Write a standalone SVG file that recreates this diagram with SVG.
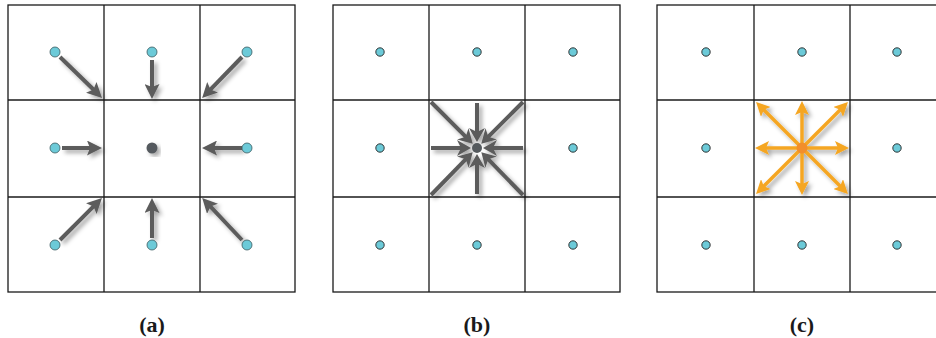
<svg xmlns="http://www.w3.org/2000/svg" width="936" height="338" viewBox="0 0 936 338">
<defs>
<style>
.grid{stroke:#1a1a1a;stroke-width:1.3;fill:none}
.cy{fill:#6ccad8;stroke:#3a5a60;stroke-width:0.8}
.cy2{fill:#6ccad8;stroke:#222;stroke-width:0.9}
.ga{stroke:#5c5c5c;stroke-width:4;fill:none;marker-end:url(#hg)}
.gb{stroke:#5c5c5c;stroke-width:4;fill:none;marker-end:url(#hg2)}
.oc{stroke:#f5a623;stroke-width:3.5;fill:none;marker-end:url(#ho)}
.lbl{font-family:"Liberation Serif","Times New Roman",serif;font-weight:bold;font-size:22px;fill:#1a1a1a;text-anchor:middle}
</style>
<filter id="sh" x="-30%" y="-30%" width="160%" height="160%">
<feDropShadow dx="3" dy="3" stdDeviation="2" flood-color="#000" flood-opacity="0.35"/>
</filter>
<marker id="hg" markerUnits="userSpaceOnUse" markerWidth="17" markerHeight="15" refX="7" refY="7.5" orient="auto">
<path d="M0,0 L15,7.5 L0,15 L3,7.5 z" fill="#5c5c5c"/>
</marker>
<marker id="hg2" markerUnits="userSpaceOnUse" markerWidth="16" markerHeight="16" refX="6" refY="8" orient="auto">
<path d="M0,0 L14,8 L0,16 L4,8 z" fill="#5c5c5c"/>
</marker>
<marker id="ho" markerUnits="userSpaceOnUse" markerWidth="16" markerHeight="14" refX="6" refY="7" orient="auto">
<path d="M0,0 L14,7 L0,14 L3,7 z" fill="#f5a623"/>
</marker>
</defs>
<rect width="936" height="338" fill="#fff"/>

<g id="grid-a" class="grid">
<rect x="8" y="5" width="287" height="287"/>
<line x1="104" y1="5" x2="104" y2="292"/>
<line x1="200" y1="5" x2="200" y2="292"/>
<line x1="8" y1="100" x2="295" y2="100"/>
<line x1="8" y1="197" x2="295" y2="197"/>
</g>
<g id="grid-b" class="grid">
<rect x="333" y="5" width="287" height="287"/>
<line x1="429" y1="5" x2="429" y2="292"/>
<line x1="525" y1="5" x2="525" y2="292"/>
<line x1="333" y1="100" x2="620" y2="100"/>
<line x1="333" y1="197" x2="620" y2="197"/>
</g>
<g id="grid-c" class="grid">
<rect x="657" y="5" width="290" height="287"/>
<line x1="754" y1="5" x2="754" y2="292"/>
<line x1="850" y1="5" x2="850" y2="292"/>
<line x1="657" y1="100" x2="947" y2="100"/>
<line x1="657" y1="197" x2="947" y2="197"/>
</g>

<g id="connectors">
<g filter="url(#sh)">
<line class="ga" x1="60" y1="57" x2="96.3" y2="92.3"/>
<line class="ga" x1="152" y1="60" x2="152" y2="91"/>
<line class="ga" x1="242" y1="57" x2="207.7" y2="92.3"/>
<line class="ga" x1="62" y1="148" x2="94" y2="148"/>
<line class="ga" x1="242" y1="148" x2="210" y2="148"/>
<line class="ga" x1="60" y1="240" x2="96.3" y2="203.7"/>
<line class="ga" x1="152" y1="238" x2="152" y2="206"/>
<line class="ga" x1="242" y1="240" x2="207.7" y2="203.7"/>
</g>
<g filter="url(#sh)">
<line class="gb" x1="431" y1="102" x2="467.1" y2="138.1"/>
<line class="gb" x1="477" y1="103" x2="477" y2="134"/>
<line class="gb" x1="523" y1="102" x2="486.9" y2="138.1"/>
<line class="gb" x1="431" y1="148" x2="463" y2="148"/>
<line class="gb" x1="523" y1="148" x2="491" y2="148"/>
<line class="gb" x1="431" y1="195" x2="467.1" y2="157.9"/>
<line class="gb" x1="477" y1="194" x2="477" y2="162"/>
<line class="gb" x1="523" y1="195" x2="486.9" y2="157.9"/>
</g>
<g filter="url(#sh)">
<line class="oc" x1="802" y1="148" x2="761.7" y2="107.7"/>
<line class="oc" x1="802" y1="148" x2="802" y2="109"/>
<line class="oc" x1="802" y1="148" x2="842.3" y2="107.7"/>
<line class="oc" x1="802" y1="148" x2="763" y2="148"/>
<line class="oc" x1="802" y1="148" x2="841" y2="148"/>
<line class="oc" x1="802" y1="148" x2="761.7" y2="188.3"/>
<line class="oc" x1="802" y1="148" x2="802" y2="187"/>
<line class="oc" x1="802" y1="148" x2="842.3" y2="188.3"/>
</g>
</g>

<g id="nodes-a">
<circle class="cy" cx="55" cy="52" r="5"/>
<circle class="cy" cx="152" cy="52" r="5"/>
<circle class="cy" cx="247" cy="52" r="5"/>
<circle class="cy" cx="55" cy="148" r="5"/>
<circle class="cy" cx="247" cy="148" r="5"/>
<circle class="cy" cx="55" cy="245" r="5"/>
<circle class="cy" cx="152" cy="245" r="5"/>
<circle class="cy" cx="247" cy="245" r="5"/>
<circle id="center-a" cx="152" cy="148" r="5.5" fill="#555a5e" filter="url(#sh)"/>
</g>
<g id="nodes-b">
<circle class="cy2" cx="380" cy="52" r="4.2"/>
<circle class="cy2" cx="477" cy="52" r="4.2"/>
<circle class="cy2" cx="573" cy="52" r="4.2"/>
<circle class="cy2" cx="380" cy="148" r="4.2"/>
<circle class="cy2" cx="573" cy="148" r="4.2"/>
<circle class="cy2" cx="380" cy="245" r="4.2"/>
<circle class="cy2" cx="477" cy="245" r="4.2"/>
<circle class="cy2" cx="573" cy="245" r="4.2"/>
<circle id="center-b" cx="477" cy="148" r="5" fill="#555a5e"/>
</g>
<g id="nodes-c">
<circle class="cy2" cx="706" cy="52" r="4.2"/>
<circle class="cy2" cx="802" cy="52" r="4.2"/>
<circle class="cy2" cx="897" cy="52" r="4.2"/>
<circle class="cy2" cx="706" cy="148" r="4.2"/>
<circle class="cy2" cx="897" cy="148" r="4.2"/>
<circle class="cy2" cx="706" cy="245" r="4.2"/>
<circle class="cy2" cx="802" cy="245" r="4.2"/>
<circle class="cy2" cx="897" cy="245" r="4.2"/>
<circle id="center-c" cx="802" cy="148" r="5.5" fill="#f28e2b"/>
</g>

<g id="labels">
<text class="lbl" x="152" y="332">(a)</text>
<text class="lbl" x="477" y="332">(b)</text>
<text class="lbl" x="802" y="332">(c)</text>
</g>
</svg>
